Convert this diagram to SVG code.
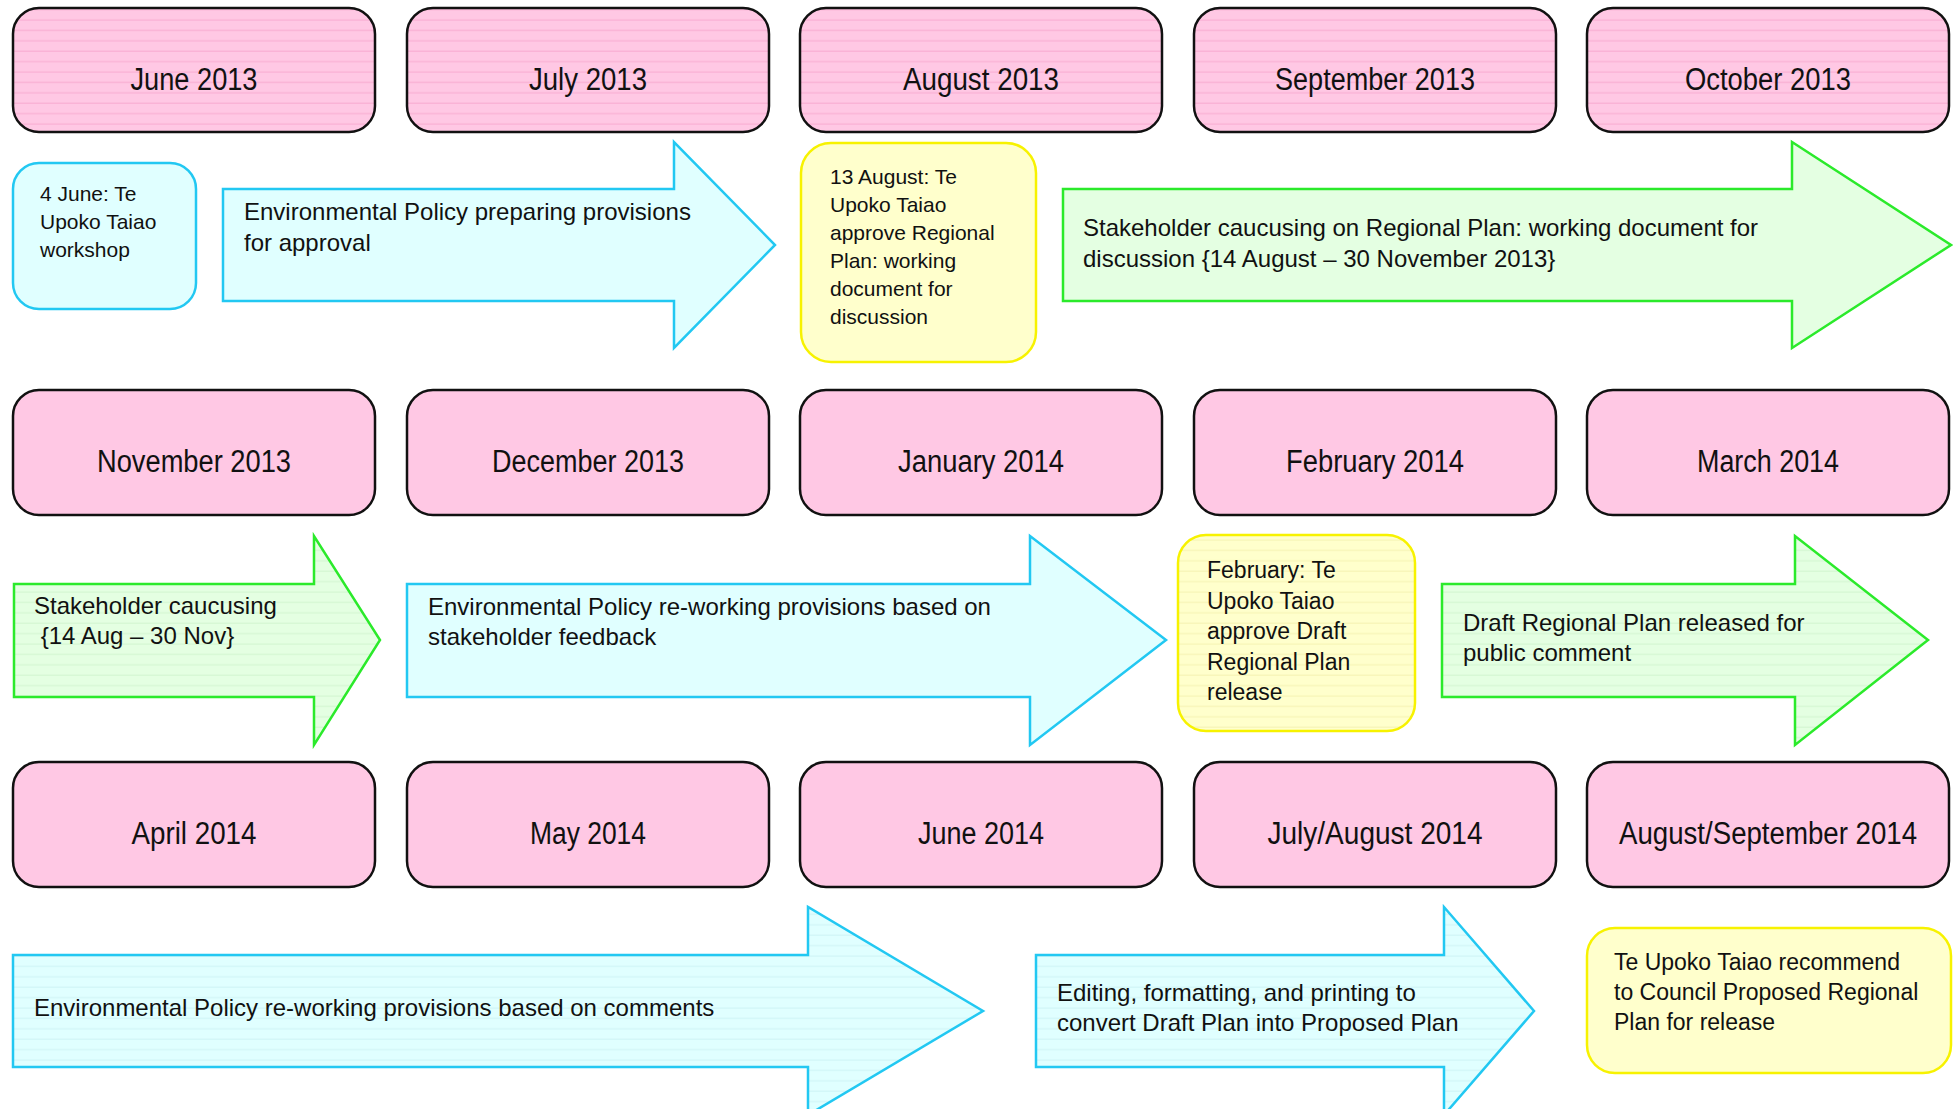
<svg xmlns="http://www.w3.org/2000/svg" width="1953" height="1109" viewBox="0 0 1953 1109">
<style>
  text { font-family: "Liberation Sans", Arial, sans-serif; fill: #111; }
  .month rect { stroke: #111; stroke-width: 2.5; }
  .mlabel { font-size: 31px; text-anchor: middle; }
  .t21 { font-size: 21px; }
  .t24 { font-size: 24px; }
  .t23 { font-size: 23px; }
  .blue { stroke: #22C8F2; stroke-width: 2.5; }
  .green { stroke: #2BEA2B; stroke-width: 2.5; }
  .yellow { stroke: #F7F200; stroke-width: 2.5; }
</style>
<defs>
  <pattern id="pinkS" patternUnits="userSpaceOnUse" width="20" height="10.4">
    <rect width="20" height="10.4" fill="#FFC8E4"/>
    <line x1="0" y1="9.6" x2="20" y2="9.6" stroke="#F8AAD0" stroke-width="1"/>
  </pattern>
  <pattern id="greenS" patternUnits="userSpaceOnUse" width="20" height="10.4">
    <rect width="20" height="10.4" fill="#E4FFE2"/>
    <line x1="0" y1="9.6" x2="20" y2="9.6" stroke="#D2F5D0" stroke-width="1"/>
  </pattern>
  <pattern id="yellowS" patternUnits="userSpaceOnUse" width="20" height="10.4">
    <rect width="20" height="10.4" fill="#FFFFCC"/>
    <line x1="0" y1="9.6" x2="20" y2="9.6" stroke="#F5F2B2" stroke-width="1"/>
  </pattern>
  <pattern id="blueS" patternUnits="userSpaceOnUse" width="20" height="10.4">
    <rect width="20" height="10.4" fill="#E0FFFF"/>
    <line x1="0" y1="9.6" x2="20" y2="9.6" stroke="#CDF4F6" stroke-width="1"/>
  </pattern>
</defs>
<rect width="1953" height="1109" fill="#FFFFFF"/>

<!-- Row 1 months -->
<g id="m-jun13" class="month"><rect x="13" y="8" width="362" height="124" rx="26" fill="url(#pinkS)"/><text class="mlabel" x="194" y="90" textLength="127" lengthAdjust="spacingAndGlyphs">June 2013</text></g>
<g id="m-jul13" class="month"><rect x="407" y="8" width="362" height="124" rx="26" fill="url(#pinkS)"/><text class="mlabel" x="588" y="90" textLength="118" lengthAdjust="spacingAndGlyphs">July 2013</text></g>
<g id="m-aug13" class="month"><rect x="800" y="8" width="362" height="124" rx="26" fill="url(#pinkS)"/><text class="mlabel" x="981" y="90" textLength="156" lengthAdjust="spacingAndGlyphs">August 2013</text></g>
<g id="m-sep13" class="month"><rect x="1194" y="8" width="362" height="124" rx="26" fill="url(#pinkS)"/><text class="mlabel" x="1375" y="90" textLength="200" lengthAdjust="spacingAndGlyphs">September 2013</text></g>
<g id="m-oct13" class="month"><rect x="1587" y="8" width="362" height="124" rx="26" fill="url(#pinkS)"/><text class="mlabel" x="1768" y="90" textLength="166" lengthAdjust="spacingAndGlyphs">October 2013</text></g>

<!-- Row 2 months -->
<g id="m-nov13" class="month"><rect x="13" y="390" width="362" height="125" rx="26" fill="#FFC8E4"/><text class="mlabel" x="194" y="472" textLength="194" lengthAdjust="spacingAndGlyphs">November 2013</text></g>
<g id="m-dec13" class="month"><rect x="407" y="390" width="362" height="125" rx="26" fill="#FFC8E4"/><text class="mlabel" x="588" y="472" textLength="192" lengthAdjust="spacingAndGlyphs">December 2013</text></g>
<g id="m-jan14" class="month"><rect x="800" y="390" width="362" height="125" rx="26" fill="#FFC8E4"/><text class="mlabel" x="981" y="472" textLength="166" lengthAdjust="spacingAndGlyphs">January 2014</text></g>
<g id="m-feb14" class="month"><rect x="1194" y="390" width="362" height="125" rx="26" fill="#FFC8E4"/><text class="mlabel" x="1375" y="472" textLength="178" lengthAdjust="spacingAndGlyphs">February 2014</text></g>
<g id="m-mar14" class="month"><rect x="1587" y="390" width="362" height="125" rx="26" fill="#FFC8E4"/><text class="mlabel" x="1768" y="472" textLength="142" lengthAdjust="spacingAndGlyphs">March 2014</text></g>

<!-- Row 3 months -->
<g id="m-apr14" class="month"><rect x="13" y="762" width="362" height="125" rx="26" fill="#FFC8E4"/><text class="mlabel" x="194" y="844" textLength="125" lengthAdjust="spacingAndGlyphs">April 2014</text></g>
<g id="m-may14" class="month"><rect x="407" y="762" width="362" height="125" rx="26" fill="#FFC8E4"/><text class="mlabel" x="588" y="844" textLength="116" lengthAdjust="spacingAndGlyphs">May 2014</text></g>
<g id="m-jun14" class="month"><rect x="800" y="762" width="362" height="125" rx="26" fill="#FFC8E4"/><text class="mlabel" x="981" y="844" textLength="126" lengthAdjust="spacingAndGlyphs">June 2014</text></g>
<g id="m-julaug14" class="month"><rect x="1194" y="762" width="362" height="125" rx="26" fill="#FFC8E4"/><text class="mlabel" x="1375" y="844" textLength="215" lengthAdjust="spacingAndGlyphs">July/August 2014</text></g>
<g id="m-augsep14" class="month"><rect x="1587" y="762" width="362" height="125" rx="26" fill="#FFC8E4"/><text class="mlabel" x="1768" y="844" textLength="298" lengthAdjust="spacingAndGlyphs">August/September 2014</text></g>

<!-- Row 1 events -->
<g id="e-workshop">
  <rect class="blue" x="13" y="163" width="183" height="146" rx="26" fill="#E0FFFF"/>
  <text class="t21" x="40"><tspan x="40" y="201">4 June: Te</tspan><tspan x="40" y="229">Upoko Taiao</tspan><tspan x="40" y="257">workshop</tspan></text>
</g>
<g id="e-preparing">
  <polygon class="blue" points="223,189 674,189 674,142 775,245 674,348 674,301 223,301" fill="#E0FFFF"/>
  <text class="t24"><tspan x="244" y="220">Environmental Policy preparing provisions</tspan><tspan x="244" y="251">for approval</tspan></text>
</g>
<g id="e-approve-wd">
  <rect class="yellow" x="801" y="143" width="235" height="219" rx="30" fill="#FFFFCC"/>
  <text class="t21"><tspan x="830" y="184">13 August: Te</tspan><tspan x="830" y="212">Upoko Taiao</tspan><tspan x="830" y="240">approve Regional</tspan><tspan x="830" y="268">Plan: working</tspan><tspan x="830" y="296">document for</tspan><tspan x="830" y="324">discussion</tspan></text>
</g>
<g id="e-caucus1">
  <polygon class="green" points="1063,189 1792,189 1792,142 1951,245 1792,348 1792,301 1063,301" fill="#E4FFE2"/>
  <text class="t24"><tspan x="1083" y="236">Stakeholder caucusing on Regional Plan: working document for</tspan><tspan x="1083" y="267">discussion {14 August – 30 November 2013}</tspan></text>
</g>

<!-- Row 2 events -->
<g id="e-caucus2">
  <polygon class="green" points="14,584 314,584 314,536 380,640 314,745 314,697 14,697" fill="url(#greenS)"/>
  <text class="t24"><tspan x="34" y="614">Stakeholder caucusing</tspan><tspan x="34" y="644" xml:space="preserve"> {14 Aug – 30 Nov}</tspan></text>
</g>
<g id="e-reworking1">
  <polygon class="blue" points="407,584 1030,584 1030,536 1166,640 1030,745 1030,697 407,697" fill="#E0FFFF"/>
  <text class="t24"><tspan x="428" y="615">Environmental Policy re-working provisions based on</tspan><tspan x="428" y="645">stakeholder feedback</tspan></text>
</g>
<g id="e-approve-draft">
  <rect class="yellow" x="1178" y="535" width="237" height="196" rx="28" fill="url(#yellowS)"/>
  <text class="t23"><tspan x="1207" y="578">February: Te</tspan><tspan x="1207" y="609">Upoko Taiao</tspan><tspan x="1207" y="639">approve Draft</tspan><tspan x="1207" y="670">Regional Plan</tspan><tspan x="1207" y="700">release</tspan></text>
</g>
<g id="e-draft-release">
  <polygon class="green" points="1442,584 1795,584 1795,536 1928,640 1795,745 1795,697 1442,697" fill="url(#greenS)"/>
  <text class="t24"><tspan x="1463" y="631">Draft Regional Plan released for</tspan><tspan x="1463" y="661">public comment</tspan></text>
</g>

<!-- Row 3 events -->
<g id="e-reworking2">
  <polygon class="blue" points="13,955 808,955 808,907 983,1011 808,1115 808,1067 13,1067" fill="url(#blueS)"/>
  <text class="t24" x="34" y="1016">Environmental Policy re-working provisions based on comments</text>
</g>
<g id="e-editing">
  <polygon class="blue" points="1036,955 1444,955 1444,907 1534,1011 1444,1115 1444,1067 1036,1067" fill="url(#blueS)"/>
  <text class="t24"><tspan x="1057" y="1001">Editing, formatting, and printing to</tspan><tspan x="1057" y="1031">convert Draft Plan into Proposed Plan</tspan></text>
</g>
<g id="e-recommend">
  <rect class="yellow" x="1587" y="928" width="364" height="145" rx="28" fill="#FFFFCC"/>
  <text class="t23"><tspan x="1614" y="970">Te Upoko Taiao recommend</tspan><tspan x="1614" y="1000">to Council Proposed Regional</tspan><tspan x="1614" y="1030">Plan for release</tspan></text>
</g>

<g id="connectors"></g>
</svg>
